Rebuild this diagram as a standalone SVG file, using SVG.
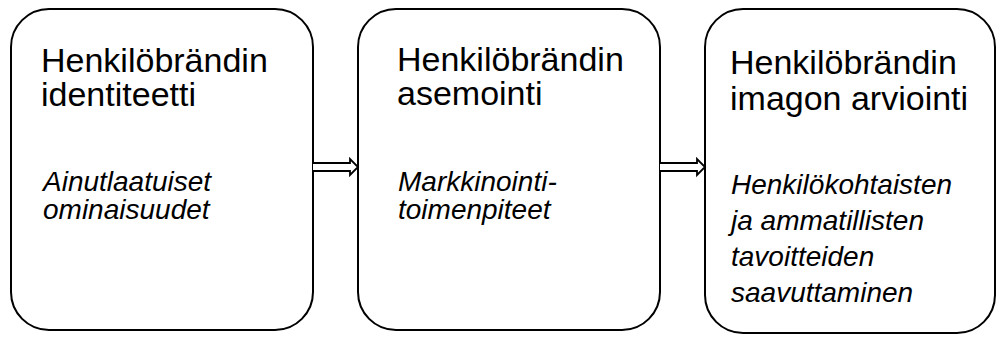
<svg xmlns="http://www.w3.org/2000/svg" width="996" height="338" viewBox="0 0 996 338">
  <style>
    .box { fill: #ffffff; stroke: #000000; stroke-width: 2; }
    .title { font-family: "Liberation Sans", Arial, sans-serif; font-size: 34px; fill: #000000; }
    .desc { font-family: "Liberation Sans", Arial, sans-serif; font-size: 28px; font-style: italic; fill: #000000; }
    .arrow { fill: #ffffff; stroke: #000000; stroke-width: 1.8; stroke-linejoin: miter; }
  </style>
  <rect width="996" height="338" fill="#ffffff"/>

  <g id="node-identiteetti">
    <rect class="box" x="11" y="9" width="302" height="321" rx="38" ry="38"/>
    <text class="title" x="41" y="72">Henkilöbrändin</text>
    <text class="title" x="41" y="106">identiteetti</text>
    <text class="desc" x="43" y="191">Ainutlaatuiset</text>
    <text class="desc" x="43" y="219">ominaisuudet</text>
  </g>

  <g id="node-asemointi">
    <rect class="box" x="358" y="9" width="302" height="321" rx="38" ry="38"/>
    <text class="title" x="397" y="71">Henkilöbrändin</text>
    <text class="title" x="397" y="105">asemointi</text>
    <text class="desc" x="398" y="191">Markkinointi-</text>
    <text class="desc" x="398" y="219">toimenpiteet</text>
  </g>

  <g id="node-arviointi">
    <rect class="box" x="705" y="9" width="290" height="324" rx="38" ry="38"/>
    <text class="title" x="730" y="74">Henkilöbrändin</text>
    <text class="title" x="730" y="110">imagon arviointi</text>
    <text class="desc" x="731" y="194">Henkilökohtaisten</text>
    <text class="desc" x="731" y="230">ja ammatillisten</text>
    <text class="desc" x="731" y="266">tavoitteiden</text>
    <text class="desc" x="731" y="302">saavuttaminen</text>
  </g>

  <g id="connectors">
    <path class="arrow" d="M313,163 H350 V159 L358,167 L350,175 V171 H313"/>
    <path class="arrow" d="M660,163 H697 V159 L705,167 L697,175 V171 H660"/>
  </g>
</svg>
